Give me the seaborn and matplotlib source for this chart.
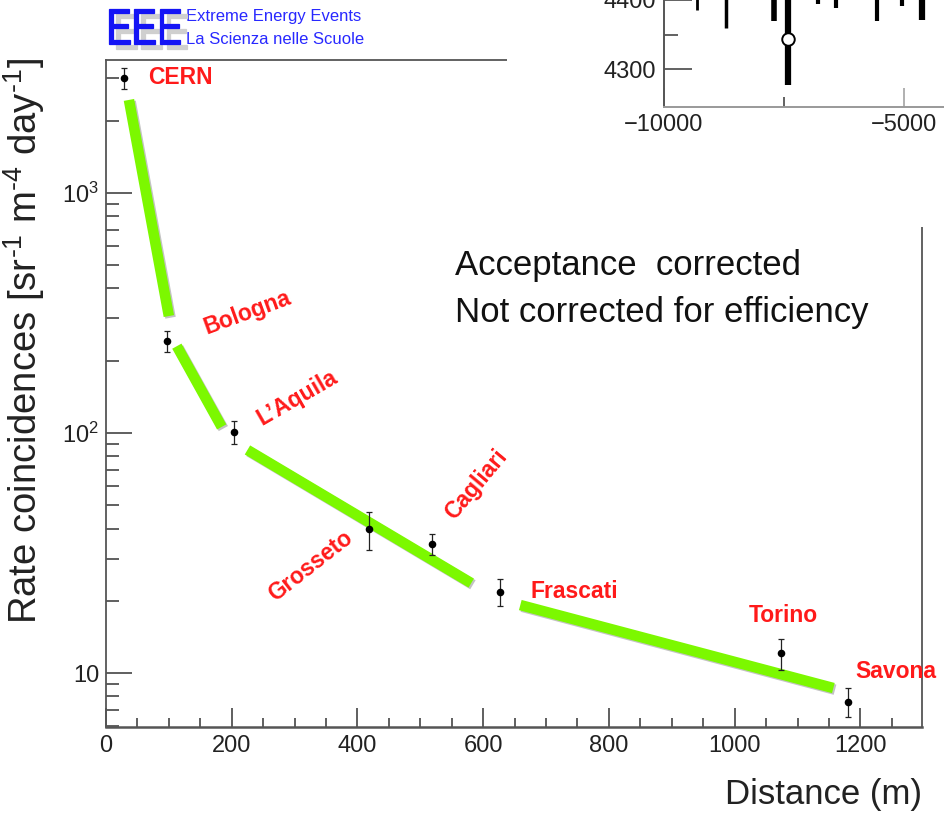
import matplotlib
matplotlib.use("Agg")
import matplotlib.pyplot as plt
import matplotlib.patheffects as pe
import matplotlib.transforms as mtransforms
import numpy as np
import pandas as pd
import seaborn as sns
from matplotlib.font_manager import FontProperties
from matplotlib.patches import PathPatch, Rectangle
from matplotlib.textpath import TextPath
from matplotlib.ticker import FixedLocator, FuncFormatter, LogLocator, MultipleLocator, NullFormatter

# measured rates per site
sites = ["CERN", "Bologna", "L’Aquila", "Grosseto", "Cagliari", "Frascati", "Torino", "Savona"]
distance = [28, 97, 203, 419, 519, 627, 1074, 1181]
rate = [3015, 242, 101, 39.8, 34.5, 21.8, 12.1, 7.6]
rate_err = [300, 24, 11, 7.2, 3.5, 2.8, 1.8, 1.05]

# hand-drawn green trend segments (start/end)
seg_x0 = [36.5, 112.7, 225, 659]
seg_x1 = [100, 184, 581, 1157]
seg_y0 = [2441, 230, 85, 19.2]
seg_y1 = [307, 106, 23.7, 8.66]

# piece of the overlapping inset plot
inset_x = [-9312, -8708, -7708, -7417, -6792, -6417, -5562, -5042, -4625]
inset_lo = [4386, 4359, 4370, 4277, 4394, 4388, 4370, 4391, 4371]
inset_hi = [4500] * len(inset_x)
inset_pt_x = [-7417]
inset_pt_y = [4343]

# label placement (pixels offset from the point) and rotation
label_dx = [57, 80, 64, -59, 44, 74, 2, 47]
label_dy = [0, 28, 34, -37, 59, 0, 38, 30]
label_rot = [0, 20, 30, 38, 50, 0, 0, 0]

sns.set_theme(style="ticks")
plt.rcParams["font.family"] = ["Liberation Sans", "DejaVu Sans"]
plt.rcParams["mathtext.fontset"] = "custom"
plt.rcParams["mathtext.rm"] = "Liberation Sans"
plt.rcParams["mathtext.it"] = "Liberation Sans:italic"
plt.rcParams["mathtext.bf"] = "Liberation Sans:bold"

W, H = 944, 818
fig = plt.figure(figsize=(W / 100, H / 100), dpi=100)
fig.patch.set_facecolor("white")
ax = fig.add_axes([106 / W, 1 - 727 / H, (922 - 106) / W, (727 - 60) / H])
ax.set_yscale("log")
ax.set_xlim(0, 1298)
ax.set_ylim(5.96, 3580)

# green segments
df_fit = pd.DataFrame({
    "seg": np.repeat(np.arange(len(seg_x0)), 2),
    "x": np.ravel(np.column_stack([seg_x0, seg_x1])),
    "y": np.ravel(np.column_stack([seg_y0, seg_y1])),
})
sns.lineplot(
    data=df_fit, x="x", y="y", units="seg", estimator=None, sort=False,
    color="#7cf800", lw=7.6, solid_capstyle="butt", ax=ax, zorder=2,
    path_effects=[pe.SimpleLineShadow(offset=(1.2, -1.2), shadow_color="#555555", alpha=0.35),
                  pe.Normal()],
)

# data points
ax.errorbar(distance, rate, yerr=rate_err, fmt="none", ecolor="#222222",
            elinewidth=0.9, capsize=2.2, capthick=0.9, zorder=3)
sns.scatterplot(x=distance, y=rate, color="black", s=30, edgecolor="black",
                linewidth=0, ax=ax, zorder=4)

for name, x, y, dx, dy, rot in zip(sites, distance, rate, label_dx, label_dy, label_rot):
    ax.annotate(name, (x, y), xytext=(dx, dy), textcoords="offset pixels",
                ha="center", va="center", rotation=rot, color="#ff1a1a",
                fontsize=16.5, fontweight="bold", annotation_clip=False, zorder=5)

ax.set_xlabel("")
ax.set_ylabel("")
ax.xaxis.set_major_locator(MultipleLocator(200))
ax.xaxis.set_minor_locator(MultipleLocator(50))
ax.yaxis.set_major_locator(LogLocator(base=10))
ax.yaxis.set_minor_locator(LogLocator(base=10, subs=np.arange(2, 10)))
ax.yaxis.set_minor_formatter(NullFormatter())
ax.yaxis.set_major_formatter(FuncFormatter(
    lambda v, p: "10" if round(v) == 10 else r"$\mathregular{10^{%d}}$" % round(np.log10(v))))

ax.tick_params(which="both", direction="in", color="#444444", width=1.2,
               labelsize=17, labelcolor="#222222", top=False, right=False)
ax.tick_params(axis="x", which="major", length=14, pad=6)
ax.tick_params(axis="x", which="minor", length=6.5)
ax.tick_params(axis="y", which="major", length=18.5, pad=5)
ax.tick_params(axis="y", which="minor", length=9)
for s in ax.spines.values():
    s.set_color("#555555")
    s.set_linewidth(1.3)
ax.spines["bottom"].set_linewidth(1.8)

fig.text(24 / W, 1 - 58 / H, "Rate coincidences [sr$^{\u20101}$ m$^{\u20104}$ day$^{\u20101}$]",
         rotation=90, ha="center", va="top", fontsize=27.5, color="#222222")
fig.text(922 / W, 1 - 804 / H, "Distance (m)", ha="right", va="baseline",
         fontsize=25, color="#222222")
fig.text(455 / W, 1 - 275 / H, "Acceptance  corrected", va="baseline", fontsize=25, color="#111111")
fig.text(455 / W, 1 - 322 / H, "Not corrected for efficiency", va="baseline", fontsize=25, color="#111111")

# EEE logo
fp = FontProperties(family="Liberation Sans")
tp = TextPath((0, 0), "EEE", size=1, prop=fp)
for off, col, z in [((7, -5), "#cfcfcf", 6), ((0, 0), "#1414f5", 7)]:
    tr = mtransforms.Affine2D().scale(38, 50.3).translate(106 + off[0], H - 44 + off[1])
    patch = PathPatch(tp, facecolor=col, edgecolor=col, linewidth=0.9,
                      transform=tr + mtransforms.Affine2D().scale(1 / 100) + fig.dpi_scale_trans)
    patch.set_zorder(z)
    fig.add_artist(patch)
fig.text(186 / W, 1 - 17 / H, "Extreme Energy Events", color="#2828ff", fontsize=12, va="center")
fig.text(186 / W, 1 - 40 / H, "La Scienza nelle Scuole", color="#2828ff", fontsize=12, va="center")

# overlapping inset (cut by figure edge)
fig.add_artist(Rectangle((507 / W, 1 - 227 / H), 1, 1, transform=fig.transFigure,
                         facecolor="white", edgecolor="none", zorder=2))
axin = fig.add_axes([664 / W, 1 - 107 / H, 0.4, 0.2], zorder=3)
y_bot = 4300 - 38 / 0.69
axin.set_xlim(-10000, -10000 + 0.4 * W / 0.048)
axin.set_ylim(y_bot, y_bot + 0.2 * H / 0.69)
axin.vlines(inset_x, inset_lo, inset_hi, colors="black",
            linewidths=[2, 2.5, 4, 4.5, 3, 3, 3, 3, 4.5])
axin.plot(inset_pt_x, inset_pt_y, "o", mfc="white", mec="black", ms=9, mew=1.4)
axin.xaxis.set_major_locator(FixedLocator([-10000, -5000]))
axin.xaxis.set_minor_locator(FixedLocator([-7500]))
axin.yaxis.set_major_locator(FixedLocator([4300, 4400]))
axin.yaxis.set_minor_locator(FixedLocator([4350]))
axin.tick_params(which="both", direction="in", color="#555555", width=1.3,
                 labelsize=17, labelcolor="#222222")
axin.tick_params(axis="x", which="major", length=14, pad=5, color="#aaaaaa")
axin.tick_params(axis="x", which="minor", length=7)
axin.tick_params(axis="y", which="major", length=20, pad=6)
axin.tick_params(axis="y", which="minor", length=10)
axin.spines["left"].set_color("#555555")
axin.spines["bottom"].set_color("#999999")
for s in ("left", "bottom"):
    axin.spines[s].set_linewidth(1.4)
axin.spines["top"].set_visible(False)
axin.spines["right"].set_visible(False)
axin.set_facecolor("none")

fig.savefig("out.png", dpi=100)
